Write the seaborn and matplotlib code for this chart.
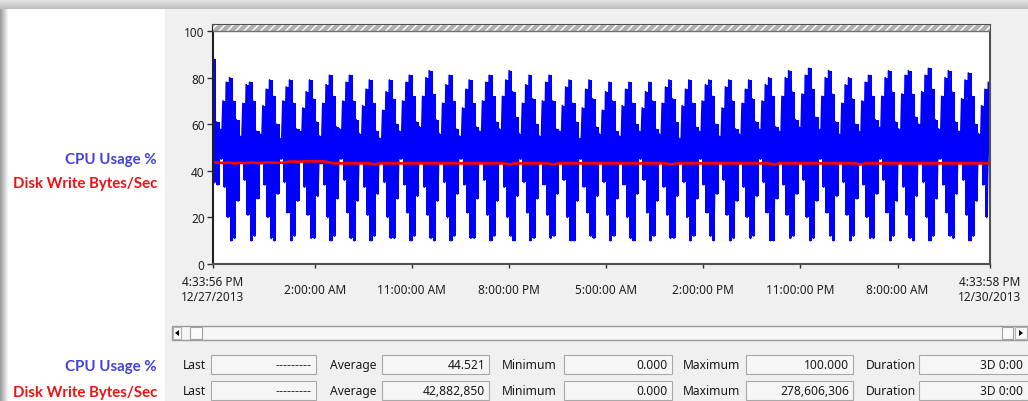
import numpy as np
import pandas as pd
import matplotlib
matplotlib.use('Agg')
import matplotlib.pyplot as plt
import seaborn as sns
from matplotlib.patches import Rectangle, Polygon

W, H = 1028, 402

# CPU Usage % - raw samples, alternating high / low readings (one row per load cycle)
cpu_usage = [
    88, 35, 61, 34,
    58, 45, 70, 33, 78, 20, 80, 10, 70, 11, 62, 27,
    55, 44, 69, 36, 77, 21, 78, 10, 70, 12, 57, 28,
    56, 43, 68, 34, 75, 20, 79, 11, 72, 10, 60, 30,
    54, 45, 70, 35, 76, 22, 79, 10, 69, 12, 58, 27,
    57, 44, 67, 33, 74, 21, 79, 11, 71, 11, 61, 29,
    55, 43, 69, 34, 77, 20, 81, 10, 72, 12, 59, 28,
    58, 45, 70, 36, 78, 22, 81, 11, 70, 10, 62, 27,
    56, 44, 68, 33, 75, 21, 79, 10, 69, 12, 57, 30,
    54, 43, 66, 35, 74, 20, 79, 11, 71, 11, 60, 28,
    57, 45, 70, 34, 78, 22, 81, 10, 72, 12, 61, 29,
    59, 44, 72, 33, 80, 21, 83, 11, 73, 10, 62, 27,
    56, 43, 69, 35, 77, 20, 81, 10, 70, 12, 58, 30,
    55, 45, 67, 34, 75, 22, 79, 11, 69, 11, 59, 28,
    57, 44, 70, 36, 78, 21, 81, 10, 72, 12, 61, 27,
    58, 43, 72, 33, 79, 20, 83, 12, 74, 10, 63, 29,
    56, 45, 69, 35, 77, 22, 81, 10, 71, 11, 60, 28,
    55, 44, 70, 34, 78, 21, 81, 11, 70, 12, 58, 30,
    57, 43, 68, 36, 76, 20, 79, 10, 69, 10, 61, 27,
    54, 45, 67, 33, 75, 22, 79, 12, 71, 11, 59, 29,
    56, 44, 66, 35, 74, 21, 78, 10, 70, 12, 57, 28,
    55, 43, 68, 34, 75, 20, 78, 11, 69, 10, 60, 30,
    57, 45, 67, 36, 74, 22, 78, 10, 70, 12, 58, 27,
    56, 44, 69, 33, 76, 21, 79, 11, 71, 11, 61, 29,
    54, 43, 68, 35, 75, 20, 79, 10, 69, 12, 59, 28,
    57, 45, 70, 34, 77, 22, 79, 12, 72, 10, 60, 30,
    55, 44, 67, 36, 76, 21, 79, 10, 70, 11, 58, 27,
    56, 43, 69, 33, 75, 20, 79, 11, 71, 12, 61, 29,
    58, 45, 70, 35, 77, 22, 80, 10, 72, 10, 59, 28,
    57, 44, 72, 34, 80, 21, 83, 11, 74, 12, 62, 30,
    59, 43, 73, 36, 81, 20, 84, 10, 75, 11, 63, 27,
    58, 45, 72, 33, 80, 22, 83, 12, 73, 10, 61, 29,
    56, 44, 69, 35, 77, 21, 80, 10, 71, 12, 60, 28,
    57, 43, 70, 34, 78, 20, 81, 11, 72, 11, 62, 30,
    59, 45, 72, 36, 80, 22, 83, 10, 74, 12, 61, 27,
    58, 44, 73, 33, 81, 21, 83, 11, 73, 10, 63, 29,
    60, 43, 74, 35, 81, 20, 84, 10, 75, 12, 62, 28,
    58, 45, 72, 34, 80, 22, 83, 12, 74, 11, 61, 30,
    57, 44, 71, 36, 79, 21, 82, 10, 72, 12, 60, 27,
    56, 43, 68, 34, 75, 20, 78, 18,
]

# Disk Write Bytes/Sec, half-hourly, in millions (perfmon scale 0.000001)
disk_write = [
    43.4, 43.6, 43.3, 43.5, 43.2, 43.4, 43.3, 43.6, 43.4, 43.3, 43.6, 43.5,
    43.4, 43.5, 43.9, 44.0, 43.9, 44.1, 44.1, 44.0, 44.1, 43.9, 43.3, 43.2,
    43.2, 43.2, 43.2, 43.2, 43.2, 43.2, 42.7, 43.2, 43.2, 43.2, 43.2, 43.2,
    43.2, 43.2, 43.2, 43.2, 43.2, 43.2, 43.2, 43.2, 43.2, 43.2, 43.2, 43.2,
    43.2, 43.2, 43.2, 43.2, 43.2, 43.2, 43.2, 42.7, 43.2, 43.2, 43.2, 43.2,
    43.2, 43.2, 43.2, 42.7, 43.2, 43.2, 43.2, 43.2, 43.2, 43.2, 43.2, 43.2,
    43.2, 43.2, 43.2, 43.2, 43.2, 43.2, 43.2, 43.2, 43.2, 43.2, 43.2, 43.2,
    43.2, 42.7, 43.2, 43.2, 43.2, 43.2, 43.2, 43.2, 43.2, 43.2, 43.2, 43.2,
    43.2, 43.2, 43.2, 43.2, 43.2, 43.2, 43.2, 43.2, 42.7, 43.2, 43.2, 43.2,
    43.2, 43.2, 43.2, 43.2, 43.2, 43.2, 43.2, 43.2, 43.2, 43.2, 43.2, 43.2,
    42.7, 43.2, 43.2, 43.2, 43.2, 43.2, 43.2, 43.2, 43.2, 43.2, 43.2, 43.2,
    43.2, 43.2, 43.2, 43.2, 43.2, 43.2, 43.2, 43.2, 43.2, 43.2, 43.2, 43.2,
    43.2,
]

start = pd.Timestamp('2013-12-27 16:33:56')
end = pd.Timestamp('2013-12-30 16:33:58')
tick_times = pd.date_range('2013-12-28 02:00', periods=7, freq='9h')
tick_labels = ['4:33:56 PM\n12/27/2013', '2:00:00 AM', '11:00:00 AM', '8:00:00 PM',
               '5:00:00 AM', '2:00:00 PM', '11:00:00 PM', '8:00:00 AM',
               '4:33:58 PM\n12/30/2013']

stat_names = ['Last', 'Average', 'Minimum', 'Maximum', 'Duration']
cpu_stats = ['---------', '44.521', '0.000', '100.000', '3D 0:00']
disk_stats = ['---------', '42,882,850', '0.000', '278,606,306', '3D 0:00']

sns.set_theme(style='white')
plt.rcParams['font.family'] = ['Noto Sans', 'DejaVu Sans']

total_h = (end - start).total_seconds() / 3600
cpu_df = pd.DataFrame({'hours': np.linspace(0, total_h, len(cpu_usage)), 'cpu': cpu_usage})
# high/low reading of each sample pair, held for the width of the pair
pairs = pd.DataFrame({'hours': cpu_df['hours'].values[0::2],
                      'high': cpu_df['cpu'].values[0::2],
                      'low': cpu_df['cpu'].values[1::2]})
disk_df = pd.DataFrame({'hours': np.arange(len(disk_write)) * 0.5, 'disk': disk_write})
disk_df['hours'] = disk_df['hours'].clip(upper=total_h)

fig = plt.figure(figsize=(W / 100, H / 100), dpi=100)
fig.patch.set_facecolor('white')


def px_rect(x0, y0, x1, y1, z=1, **kw):
    # rectangle given in screen pixels (top-left origin)
    r = Rectangle((x0 / W, 1 - y1 / H), (x1 - x0) / W, (y1 - y0) / H,
                  transform=fig.transFigure, zorder=z, **kw)
    fig.add_artist(r)
    return r


# window background (behind the axes)
px_rect(165, 10, W, H, z=-5, facecolor='#f0f0f0', lw=0)
for i in range(10):
    g = 0.90 - 0.15 * i / 9
    px_rect(0, i, W, i + 1, z=-5, facecolor=(g, g, g), lw=0)
for i in range(9):
    g = 0.62 + 0.38 * i / 8
    px_rect(i, 10, i + 1, H, z=-5, facecolor=(g, g, g), lw=0)

# plot area
ax = fig.add_axes([213 / W, 1 - 265 / H, 777 / W, 239 / H])
ax.set_facecolor('white')
ax.fill_between(pairs['hours'], pairs['low'], pairs['high'], step='post',
                color='#0000ff', lw=0)
sns.lineplot(data=cpu_df, x='hours', y='cpu', ax=ax, color='#0000ff', lw=1.2,
             estimator=None, sort=False)
sns.lineplot(data=disk_df, x='hours', y='disk', ax=ax, color='#ff0000', lw=1.9,
             estimator=None, sort=False)
ax.add_patch(Rectangle((0, 100), total_h, 2.6, facecolor='#b0b0b0', edgecolor='white',
                       hatch='////', lw=0, zorder=3))
ax.axhline(100, color='#707070', lw=1, zorder=4)
ax.set_xlim(0, total_h)
ax.set_ylim(0, 102.6)
ax.set_xlabel('')
ax.set_ylabel('')
ax.set_yticks([0, 20, 40, 60, 80, 100])
xt = [0] + [(t - start).total_seconds() / 3600 for t in tick_times] + [total_h]
ax.set_xticks(xt, tick_labels)
for lbl in ax.get_xticklabels():
    lbl.set_va('center')
    lbl.set_multialignment('center')
ax.tick_params(axis='y', direction='out', length=4, width=1, color='#303030',
               pad=2, labelsize=8.5, labelcolor='#202020', left=True)
ax.tick_params(axis='x', direction='out', length=3, width=1, color='#303030',
               pad=15, labelsize=8.5, labelcolor='#202020', bottom=True)
for side in ['top', 'right', 'bottom']:
    ax.spines[side].set_color('#505050')
    ax.spines[side].set_linewidth(1.5)
ax.spines['left'].set_color('#202020')
ax.spines['left'].set_linewidth(1.5)
ax.grid(False)

# counter names
lab_font = ['Lato', 'DejaVu Sans']
fig.text(157 / W, 1 - 160 / H, 'CPU Usage %', ha='right', va='center', color='#4040dc',
         fontsize=10.8, fontweight='bold', family=lab_font)
fig.text(157 / W, 1 - 184 / H, 'Disk Write Bytes/Sec', ha='right', va='center', color='#ee1111',
         fontsize=10.8, fontweight='bold', family=lab_font)

# scroll bar
px_rect(172, 327, W, 341, facecolor='#f6f6f6', edgecolor='#9a9a9a', lw=1)
px_rect(173, 328, 181, 340, facecolor='#fafafa', edgecolor='#b0b0b0', lw=0.8)
px_rect(190, 328, 202, 340, facecolor='#fbfbfb', edgecolor='#a0a0a0', lw=0.8)
px_rect(1002, 328, 1013, 340, facecolor='#fbfbfb', edgecolor='#a0a0a0', lw=0.8)
px_rect(1015, 328, 1027, 340, facecolor='#fafafa', edgecolor='#b0b0b0', lw=0.8)
for pts in ([(175, 334), (179, 331), (179, 337)], [(1023, 334), (1019, 331), (1019, 337)]):
    fig.add_artist(Polygon([(x / W, 1 - y / H) for x, y in pts], closed=True,
                           transform=fig.transFigure, facecolor='black', lw=0))

# statistics rows
label_x = [183, 330, 502, 683, 866]
box_x = [(211, 316), (382, 489), (564, 672), (746, 853), (919, 1045)]
rows = [('CPU Usage %', '#4040dc', cpu_stats, 366), ('Disk Write Bytes/Sec', '#ee1111', disk_stats, 392)]
for name, col, vals, yc in rows:
    fig.text(157 / W, 1 - (yc + 1) / H, name, ha='right', va='center', color=col,
             fontsize=10.8, fontweight='bold', family=lab_font)
    for lx, (b0, b1), nm, v in zip(label_x, box_x, stat_names, vals):
        fig.text(lx / W, 1 - yc / H, nm, ha='left', va='center', fontsize=8.7, color='#1a1a1a')
        px_rect(b0, yc - 10, b1, yc + 9, facecolor='#f6f6f6', edgecolor='#a8a8a8', lw=0.8)
        right = 1023 if nm == 'Duration' else b1 - 4
        fam = ['Liberation Sans'] if nm == 'Last' else None
        fig.text(right / W, 1 - yc / H, v, ha='right', va='center', fontsize=8.7,
                 color='#1a1a1a', family=fam)

fig.savefig('out.png', dpi=100)
